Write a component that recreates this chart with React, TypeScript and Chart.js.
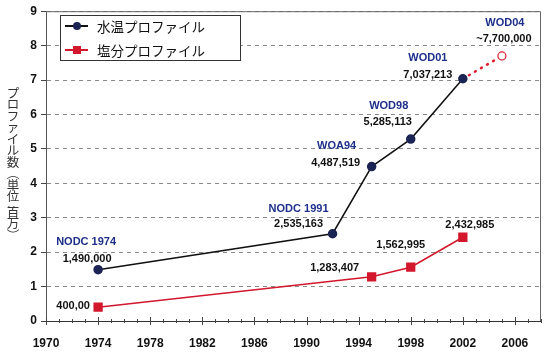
import React, { useEffect, useRef } from "react";
import { Chart, registerables } from "chart.js";

Chart.register(...registerables);

// ---- data ----
const tempYears = [1974, 1992, 1995, 1998, 2002];
const tempValues = [1.49, 2.535163, 4.487519, 5.285113, 7.037213];
const salYears = [1974, 1995, 1998, 2002];
const salValues = [0.4, 1.283407, 1.562995, 2.432985];
const projYears = [2002, 2005];
const projValues = [7.037213, 7.7];

const tempNames = ["NODC 1974", "NODC 1991", "WOA94", "WOD98", "WOD01"];
const tempLabels = ["1,490,000", "2,535,163", "4,487,519", "5,285,113", "7,037,213"];
const projName = "WOD04";
const projLabel = "~7,700,000";
const salLabels = ["400,00", "1,283,407", "1,562,995", "2,432,985"];

const seriesNames = ["水温プロファイル", "塩分プロファイル"];
const yTitle = "プロファイル数（単位:百万）";
const xTickYears = [1970, 1974, 1978, 1982, 1986, 1990, 1994, 1998, 2002, 2006];
const xMin = 1970;
const xMax = 2008;
const yMin = 0;
const yMax = 9;

// ---- label offsets (pixels, relative to the point) ----
const tempNameOff = [[-12, -28], [-34, -25], [-35, -21], [-22, -33], [-35, -21]];
const tempValOff = [[-11, -11], [-34, -10], [-36, -4], [-23, -17], [-35, -4]];
const projNameOff = [3, -33];
const projValOff = [2, -17];
const salValOff = [[-25, -1], [-37, -9], [-10, -22], [7, -12]];

const NAVY = "#1b2452";
const BLUE = "#1d2f8a";
const RED = "#d3172c";

const overlayPlugin = {
  id: "overlay",
  afterDraw(chart: any) {
    const ctx = chart.ctx;
    const xs = chart.scales.x;
    const ys = chart.scales.y;
    const ca = chart.chartArea;
    ctx.save();

    // frame (top/right)
    ctx.strokeStyle = "#666";
    ctx.lineWidth = 1;
    ctx.beginPath();
    ctx.moveTo(ca.left, ca.top + 0.5);
    ctx.lineTo(ca.right - 0.5, ca.top + 0.5);
    ctx.lineTo(ca.right - 0.5, ca.bottom);
    ctx.stroke();

    // x ticks (major every 4, minor every 1)
    ctx.strokeStyle = "#444";
    for (let yr = xMin; yr <= xMax; yr++) {
      const px = Math.round(xs.getPixelForValue(yr)) + 0.5;
      const len = (yr - xMin) % 4 === 0 ? 4 : 2;
      ctx.beginPath();
      ctx.moveTo(px, ca.bottom - len);
      ctx.lineTo(px, ca.bottom + len);
      ctx.stroke();
    }

    // annotations
    ctx.textAlign = "center";
    ctx.textBaseline = "middle";
    ctx.font = "bold 11px 'Liberation Sans', Arial, sans-serif";
    tempYears.forEach((yr, i) => {
      const px = xs.getPixelForValue(yr);
      const py = ys.getPixelForValue(tempValues[i]);
      ctx.fillStyle = BLUE;
      ctx.fillText(tempNames[i], px + tempNameOff[i][0], py + tempNameOff[i][1]);
      ctx.fillStyle = "#111";
      ctx.fillText(tempLabels[i], px + tempValOff[i][0], py + tempValOff[i][1]);
    });
    {
      const px = xs.getPixelForValue(projYears[1]);
      const py = ys.getPixelForValue(projValues[1]);
      ctx.fillStyle = BLUE;
      ctx.fillText(projName, px + projNameOff[0], py + projNameOff[1]);
      ctx.fillStyle = "#111";
      ctx.fillText(projLabel, px + projValOff[0], py + projValOff[1]);
    }
    salYears.forEach((yr, i) => {
      const px = xs.getPixelForValue(yr);
      const py = ys.getPixelForValue(salValues[i]);
      ctx.fillStyle = "#111";
      ctx.fillText(salLabels[i], px + salValOff[i][0], py + salValOff[i][1]);
    });

    // legend box
    const lx = 60, ly = 15, lw = 180, lh = 45;
    ctx.fillStyle = "#fff";
    ctx.fillRect(lx, ly, lw, lh);
    ctx.strokeStyle = "#333";
    ctx.lineWidth = 1;
    ctx.strokeRect(lx + 0.5, ly + 0.5, lw, lh);
    const rows = [26, 50];
    const lineCols = ["#111", RED];
    ctx.textAlign = "left";
    ctx.font = "13.5px 'Noto Sans CJK JP', sans-serif";
    rows.forEach((ry, i) => {
      ctx.strokeStyle = lineCols[i];
      ctx.lineWidth = 2;
      ctx.beginPath();
      ctx.moveTo(65, ry);
      ctx.lineTo(88, ry);
      ctx.stroke();
      if (i === 0) {
        ctx.fillStyle = NAVY;
        ctx.beginPath();
        ctx.arc(77, ry, 4, 0, Math.PI * 2);
        ctx.fill();
      } else {
        ctx.fillStyle = RED;
        ctx.fillRect(73, ry - 4, 8, 8);
      }
      ctx.fillStyle = "#111";
      ctx.fillText(seriesNames[i], 97, ry + 1);
    });

    // vertical y title
    ctx.font = "12.5px 'Noto Sans CJK JP', sans-serif";
    ctx.fillStyle = "#333";
    ctx.textAlign = "center";
    let cy = 93;
    const cx = 13;
    for (const ch of Array.from(yTitle)) {
      if (ch === "（" || ch === "）") {
        ctx.save();
        ctx.translate(cx, cy);
        ctx.rotate(Math.PI / 2);
        ctx.fillText(ch, 0, 0);
        ctx.restore();
        cy += 11.5;
      } else if (ch === ":") {
        ctx.save();
        ctx.translate(cx, cy - 1);
        ctx.rotate(Math.PI / 2);
        ctx.fillText(ch, 0, 0);
        ctx.restore();
        cy += 4;
      } else {
        ctx.fillText(ch, cx, cy);
        cy += 11.5;
      }
    }
    ctx.restore();
  },
};

export default function App() {
  const ref = useRef<HTMLCanvasElement>(null);
  useEffect(() => {
    const chart = new Chart(ref.current as HTMLCanvasElement, {
      type: "line",
      data: {
        datasets: [
          {
            label: seriesNames[0],
            data: tempYears.map((x, i) => ({ x, y: tempValues[i] })),
            borderColor: "#111",
            borderWidth: 1.5,
            pointBackgroundColor: NAVY,
            pointBorderColor: NAVY,
            pointRadius: 4,
            pointStyle: "circle",
          },
          {
            label: seriesNames[1],
            data: salYears.map((x, i) => ({ x, y: salValues[i] })),
            borderColor: RED,
            borderWidth: 1.5,
            pointBackgroundColor: RED,
            pointBorderColor: RED,
            pointRadius: 5.5,
            pointStyle: "rect",
          },
          {
            label: "proj",
            data: projYears.map((x, i) => ({ x, y: projValues[i] })),
            borderColor: "#e02030",
            borderWidth: 2.5,
            borderDash: [1, 6],
            borderCapStyle: "round",
            pointBackgroundColor: "#fff",
            pointBorderColor: "#e02030",
            pointBorderWidth: 1.2,
            pointRadius: [0, 4],
          },
        ],
      },
      options: {
        responsive: false,
        animation: false,
        events: [],
        layout: { padding: { top: 10, right: 9, left: 0, bottom: 0 } },
        plugins: { legend: { display: false }, tooltip: { enabled: false } },
        scales: {
          x: {
            type: "linear",
            min: xMin,
            max: xMax,
            grid: { display: false, drawTicks: false },
            border: { display: true, color: "#333", width: 1 },
            afterBuildTicks: (s: any) => {
              s.ticks = xTickYears.map((v) => ({ value: v }));
            },
            ticks: {
              padding: 15,
              color: "#111",
              maxRotation: 0,
              autoSkip: false,
              font: { family: "'Liberation Sans', Arial, sans-serif", size: 12, weight: "bold" },
              callback: (v: any) => String(v),
            },
            afterFit: (s: any) => {
              s.height = 36;
            },
          },
          y: {
            min: yMin,
            max: yMax,
            grid: {
              color: "#8a8a8a",
              lineWidth: 1,
              tickLength: 5,
              tickColor: "#444",
              tickBorderDash: [],
            },
            border: { display: true, color: "#555", dash: [4, 4] },
            ticks: {
              stepSize: 1,
              padding: 4,
              color: "#111",
              font: { family: "'Liberation Sans', Arial, sans-serif", size: 12, weight: "bold" },
            },
            afterFit: (s: any) => {
              s.width = 46;
            },
          },
        },
      },
      plugins: [overlayPlugin],
    } as any);
    return () => chart.destroy();
  }, []);
  return (
    <div style={{ position: "fixed", left: 0, top: 0, width: 550, height: 357, background: "#fff" }}>
      <canvas ref={ref} width={550} height={357} />
    </div>
  );
}
